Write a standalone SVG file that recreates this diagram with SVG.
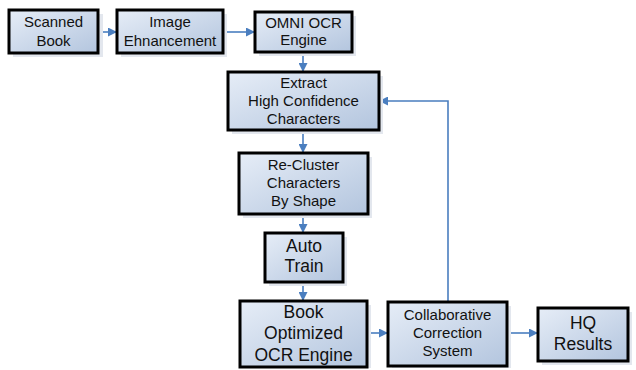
<svg xmlns="http://www.w3.org/2000/svg" width="636" height="370" viewBox="0 0 636 370">
  <defs>
    <linearGradient id="boxFill" x1="0" y1="0" x2="1" y2="1">
      <stop offset="0" stop-color="#e6edf7"/>
      <stop offset="1" stop-color="#b3c5de"/>
    </linearGradient>
    <marker id="arrow" viewBox="0 0 10 10" refX="10" refY="5" markerWidth="9" markerHeight="9" markerUnits="userSpaceOnUse" orient="auto">
      <path d="M0,0 L10,5 L0,10 z" fill="#4a7ebf"/>
    </marker>
    <style>
      .shadow { fill: #e3e7ee; }
      .box { fill: url(#boxFill); stroke: #000; stroke-width: 3; }
      .t { font-family: "Liberation Sans", Arial, sans-serif; font-size: 15px; fill: #111; text-anchor: middle; }
      .big { font-size: 17.5px; }
      .conn { fill: none; stroke: #4a7ebf; stroke-width: 1.6; marker-end: url(#arrow); }
    </style>
  </defs>

  <rect width="636" height="370" fill="#fff"/>

  <g id="connectors">
    <path class="conn" d="M98,32 H117"/>
    <path class="conn" d="M223,32 H255"/>
    <path class="conn" d="M303,52 V72"/>
    <path class="conn" d="M303,130 V153"/>
    <path class="conn" d="M303,214 V233"/>
    <path class="conn" d="M303,282 V301"/>
    <path class="conn" d="M367,333 H388"/>
    <path class="conn" d="M507,333 H538"/>
    <path class="conn" d="M448,302 V101 H379"/>
  </g>

  <g id="scanned-book">
    <rect class="shadow" x="13" y="14" width="90" height="43"/>
    <rect class="box" x="9" y="10" width="89" height="43"/>
    <text class="t" x="53.5" y="27">Scanned</text>
    <text class="t" x="53.5" y="46">Book</text>
  </g>

  <g id="image-enhancement">
    <rect class="shadow" x="121" y="14" width="106" height="43"/>
    <rect class="box" x="117" y="10" width="106" height="43"/>
    <text class="t" x="170" y="27">Image</text>
    <text class="t" x="170" y="46">Ehnancement</text>
  </g>

  <g id="omni-ocr">
    <rect class="shadow" x="259" y="16" width="97" height="40"/>
    <rect class="box" x="255" y="12" width="97" height="40"/>
    <text class="t" x="303.5" y="28">OMNI OCR</text>
    <text class="t" x="303.5" y="45">Engine</text>
  </g>

  <g id="extract">
    <rect class="shadow" x="232" y="76" width="151" height="58"/>
    <rect class="box" x="228" y="72" width="151" height="58"/>
    <text class="t" x="303.5" y="88">Extract</text>
    <text class="t" x="303.5" y="106">High Confidence</text>
    <text class="t" x="303.5" y="124">Characters</text>
  </g>

  <g id="recluster">
    <rect class="shadow" x="243" y="157" width="129" height="61"/>
    <rect class="box" x="239" y="153" width="129" height="61"/>
    <text class="t" x="303.5" y="170">Re-Cluster</text>
    <text class="t" x="303.5" y="188">Characters</text>
    <text class="t" x="303.5" y="206">By Shape</text>
  </g>

  <g id="auto-train">
    <rect class="shadow" x="269" y="237" width="78" height="49"/>
    <rect class="box" x="265" y="233" width="78" height="49"/>
    <text class="t big" x="304" y="252">Auto</text>
    <text class="t big" x="304" y="272">Train</text>
  </g>

  <g id="book-optimized">
    <rect class="shadow" x="244" y="305" width="127" height="63"/>
    <rect class="box" x="240" y="301" width="127" height="66"/>
    <text class="t big" x="303.5" y="318">Book</text>
    <text class="t big" x="303.5" y="339">Optimized</text>
    <text class="t big" x="303.5" y="361">OCR Engine</text>
  </g>

  <g id="collaborative">
    <rect class="shadow" x="392" y="306" width="119" height="62"/>
    <rect class="box" x="388" y="302" width="119" height="64"/>
    <text class="t" x="447.5" y="320">Collaborative</text>
    <text class="t" x="447.5" y="338">Correction</text>
    <text class="t" x="447.5" y="356">System</text>
  </g>

  <g id="hq-results">
    <rect class="shadow" x="542" y="312" width="90" height="53"/>
    <rect class="box" x="538" y="308" width="90" height="53"/>
    <text class="t big" x="583" y="329">HQ</text>
    <text class="t big" x="583" y="350">Results</text>
  </g>
</svg>
